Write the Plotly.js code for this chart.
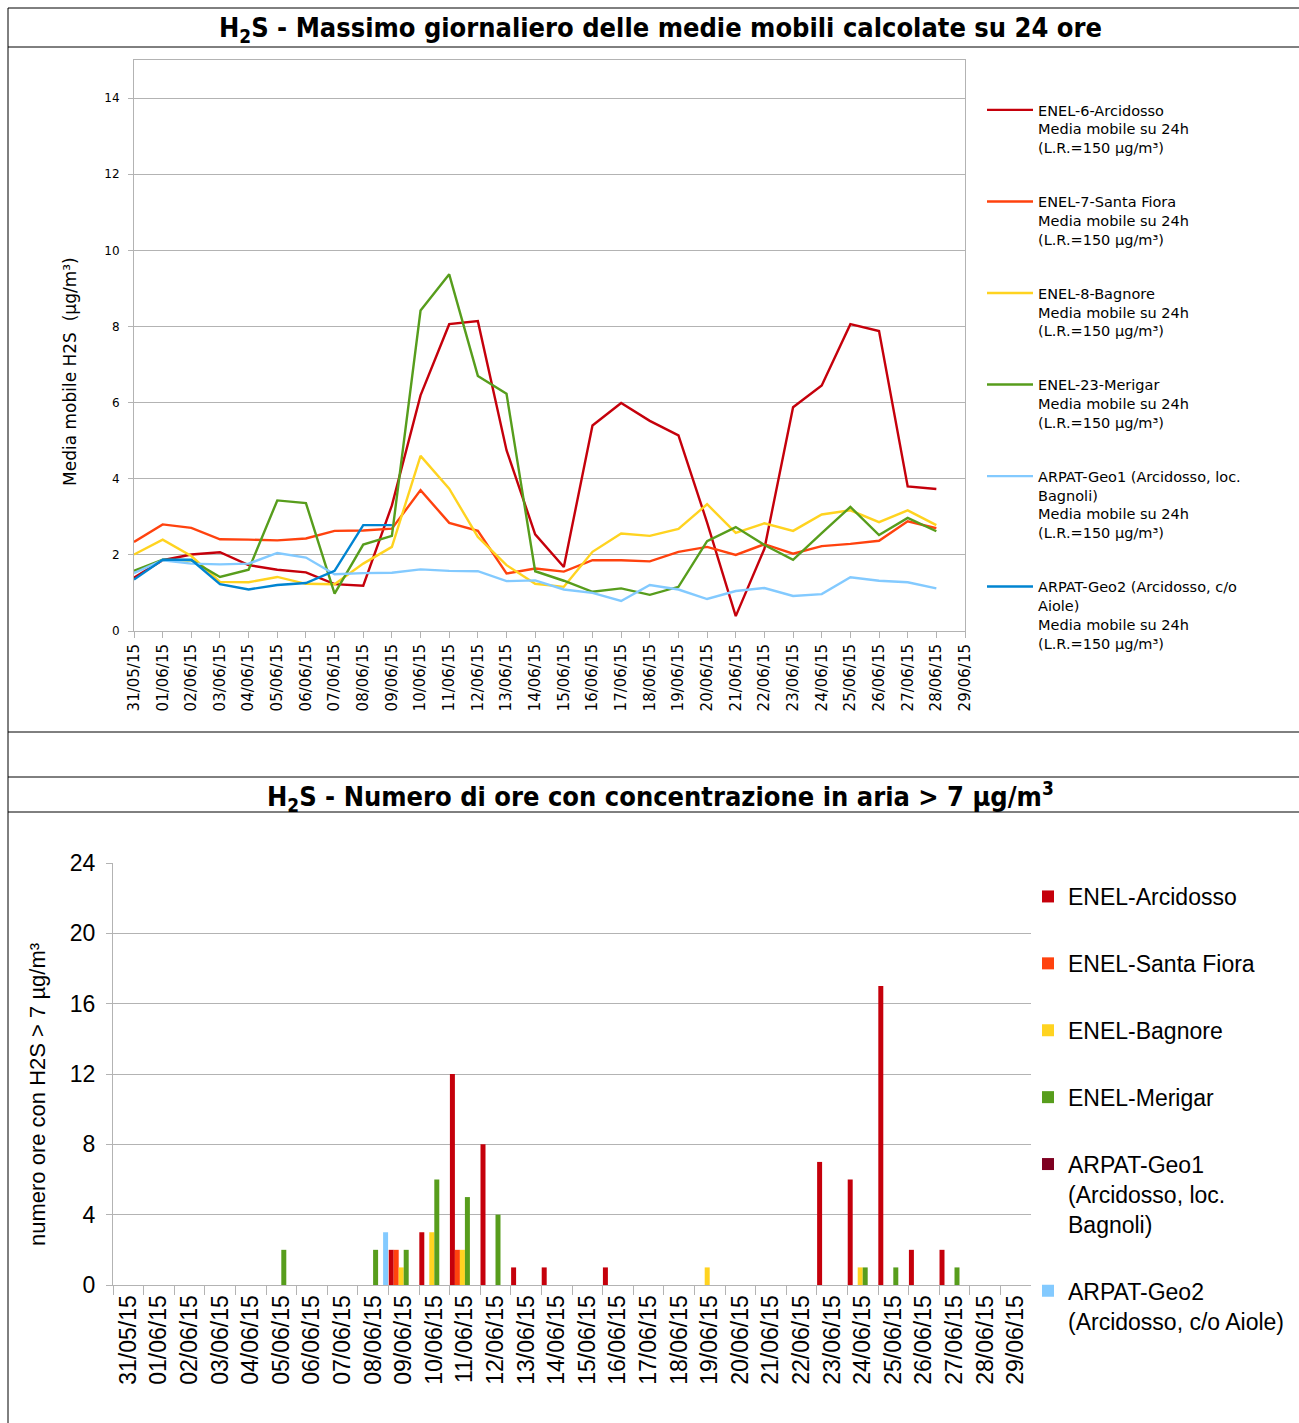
<!DOCTYPE html>
<html>
<head>
<meta charset="utf-8">
<script src="https://cdn.plot.ly/plotly-3.0.1.min.js"></script>
<style>html,body{margin:0;padding:0;background:#fff;}#chart{width:1299px;height:1423px;}</style>
</head>
<body>
<div id="chart"></div>
<script>
// ---- categories ----
const dates = ["31/05/15","01/06/15","02/06/15","03/06/15","04/06/15","05/06/15","06/06/15","07/06/15","08/06/15","09/06/15",
  "10/06/15","11/06/15","12/06/15","13/06/15","14/06/15","15/06/15","16/06/15","17/06/15","18/06/15","19/06/15",
  "20/06/15","21/06/15","22/06/15","23/06/15","24/06/15","25/06/15","26/06/15","27/06/15","28/06/15","29/06/15"];

// ---- top chart: daily max of 24h moving average (µg/m³) ----
const enel6Arcidosso = [1.40,1.86,2.01,2.07,1.73,1.61,1.54,1.23,1.19,3.30,6.19,8.06,8.14,4.75,2.54,1.68,5.40,5.99,5.52,5.14,2.85,0.39,2.16,5.88,6.45,8.06,7.88,3.80,3.73];
const enel7SantaFiora = [2.34,2.80,2.71,2.41,2.40,2.38,2.43,2.63,2.64,2.69,3.70,2.84,2.63,1.51,1.64,1.56,1.86,1.86,1.83,2.08,2.21,2.00,2.28,2.03,2.23,2.29,2.37,2.88,2.70];
const enel8Bagnore = [2.01,2.40,1.97,1.29,1.28,1.42,1.24,1.23,1.77,2.21,4.60,3.74,2.47,1.73,1.24,1.16,2.08,2.56,2.50,2.68,3.33,2.58,2.83,2.63,3.06,3.17,2.86,3.17,2.78];
const enel23Merigar = [1.58,1.87,1.86,1.42,1.61,3.43,3.36,0.98,2.27,2.50,8.42,9.37,6.70,6.23,1.57,1.32,1.03,1.12,0.95,1.16,2.36,2.73,2.26,1.87,2.57,3.26,2.52,2.97,2.62];
const arpatGeo1 = [1.52,1.86,1.77,1.75,1.77,2.05,1.93,1.49,1.52,1.53,1.62,1.58,1.57,1.31,1.33,1.09,1.00,0.79,1.21,1.09,0.84,1.05,1.13,0.92,0.97,1.41,1.32,1.28,1.12];
const arpatGeo2 = [1.35,1.87,1.87,1.23,1.09,1.21,1.26,1.58,2.78,2.78];

const lineNames = [
  "ENEL-6-Arcidosso<br>Media mobile su 24h<br>(L.R.=150 µg/m³)",
  "ENEL-7-Santa Fiora<br>Media mobile su 24h<br>(L.R.=150 µg/m³)",
  "ENEL-8-Bagnore<br>Media mobile su 24h<br>(L.R.=150 µg/m³)",
  "ENEL-23-Merigar<br>Media mobile su 24h<br>(L.R.=150 µg/m³)",
  "ARPAT-Geo1 (Arcidosso, loc.<br>Bagnoli)<br>Media mobile su 24h<br>(L.R.=150 µg/m³)",
  "ARPAT-Geo2 (Arcidosso, c/o<br>Aiole)<br>Media mobile su 24h<br>(L.R.=150 µg/m³)"
];
const lineColors = ["#c5000b","#ff420e","#ffd320","#579d1c","#83caff","#0084d1"];
const lineSeries = [enel6Arcidosso, enel7SantaFiora, enel8Bagnore, enel23Merigar, arpatGeo1, arpatGeo2];
const yTitleTop = "Media mobile H2S  (µg/m³)";

// ---- bottom chart: hours with concentration > 7 µg/m³ ----
const hArcidosso  = [0,0,0,0,0,0,0,0,0,2,3,12,8,1,1,0,1,0,0,0,0,0,0,7,6,17,2,2,0,0];
const hSantaFiora = [0,0,0,0,0,0,0,0,0,2,0,2,0,0,0,0,0,0,0,0,0,0,0,0,0,0,0,0,0,0];
const hBagnore    = [0,0,0,0,0,0,0,0,0,1,3,2,0,0,0,0,0,0,0,1,0,0,0,0,1,0,0,0,0,0];
const hMerigar    = [0,0,0,0,0,2,0,0,2,2,6,5,4,0,0,0,0,0,0,0,0,0,0,0,1,1,0,1,0,0];
const hGeo1       = [0,0,0,0,0,0,0,0,0,0,0,0,0,0,0,0,0,0,0,0,0,0,0,0,0,0,0,0,0,0];
const hGeo2       = [0,0,0,0,0,0,0,0,3,0,0,0,0,0,0,0,0,0,0,0,0,0,0,0,0,0,0,0,0,0];
const barNames = ["ENEL-Arcidosso","ENEL-Santa Fiora","ENEL-Bagnore","ENEL-Merigar",
  "ARPAT-Geo1<br>(Arcidosso, loc.<br>Bagnoli)","ARPAT-Geo2<br>(Arcidosso, c/o Aiole)"];
const barColors = ["#c5000b","#ff420e","#ffd320","#579d1c","#7e0021","#83caff"];
const barSeries = [hArcidosso,hSantaFiora,hBagnore,hMerigar,hGeo1,hGeo2];
const yTitleBottom = "numero ore con H2S > 7 µg/m³";

// ---- build ----
const W = 1299, H = 1423;
const px = v => v / W, py = v => 1 - v / H;
const traces = [];
lineSeries.forEach((s, i) => {
  traces.push({type:"scatter", mode:"lines", x: dates.slice(0, s.length), y: s, name: lineNames[i],
    line:{color: lineColors[i], width: 2.4}, xaxis:"x", yaxis:"y", legend:"legend", legendgroup:"l"+i});
});
barSeries.forEach((s, i) => {
  traces.push({type:"bar", x: dates, y: s, name: barNames[i], marker:{color: barColors[i]},
    xaxis:"x2", yaxis:"y2", legend:"legend2", legendgroup:"b"+i});
});

const grid = "#b3b3b3";
const sans = "DejaVu Sans";
const lib = "Liberation Sans, Arial, sans-serif";
const narrow = "Liberation Sans Narrow, DejaVu Sans Condensed, Liberation Sans";
function hline(y, x0, x1, w){ return {type:"line", xref:"paper", yref:"paper", x0:px(x0), x1:px(x1), y0:py(y), y1:py(y), line:{color:"#000", width:w||1}}; }

const layout = {
  width: W, height: H, autosize:false,
  margin:{l:0,r:0,t:0,b:0,pad:0},
  paper_bgcolor:"#fff", plot_bgcolor:"#fff",
  font:{family:sans, color:"#000"},
  showlegend:true,
  barmode:"group", bargap:0.02, bargroupgap:0,
  xaxis:{domain:[px(134), px(965)], anchor:"y", type:"category", categoryorder:"array", categoryarray:dates,
    range:[0,29], showline:true, mirror:true, linecolor:grid, linewidth:1, ticks:"outside", ticklen:6, tickcolor:grid,
    tickangle:-90, tickfont:{family:sans, size:15, color:"#000"}, showgrid:false, zeroline:false, fixedrange:true},
  yaxis:{domain:[py(631), py(60)], anchor:"x", range:[0,15], tick0:0, dtick:2, showgrid:true, gridcolor:grid, gridwidth:1,
    showline:true, mirror:true, linecolor:grid, ticks:"outside", ticklen:5, tickcolor:grid, zeroline:false,
    tickfont:{family:sans, size:12, color:"#000"}, ticklabelstandoff:6},
  xaxis2:{domain:[px(113), px(1031)], anchor:"y2", type:"category", categoryorder:"array", categoryarray:dates,
    range:[-0.5,29.5], tickson:"boundaries", showline:true, linecolor:grid, ticks:"outside", ticklen:9, tickcolor:grid,
    tickangle:-90, tickfont:{family:lib, size:23, color:"#000"}, showgrid:false, zeroline:false},
  yaxis2:{domain:[py(1285), py(863)], anchor:"x2", range:[0,24], tick0:0, dtick:4, showgrid:true, gridcolor:grid,
    showline:true, linecolor:grid, ticks:"outside", ticklen:6, tickcolor:grid, zeroline:false,
    tickfont:{family:lib, size:23, color:"#000"}, ticklabelstandoff:6},
  legend:{x:px(982), y:py(94), xanchor:"left", yanchor:"top", bgcolor:"rgba(0,0,0,0)", borderwidth:0, itemwidth:46,
    font:{family:sans, size:14.5, color:"#000"}, traceorder:"grouped", tracegroupgap:32, valign:"top", itemclick:false},
  legend2:{x:px(1028), y:py(875), xanchor:"left", yanchor:"top", bgcolor:"rgba(0,0,0,0)", borderwidth:0,
    font:{family:lib, size:23, color:"#000"}, traceorder:"grouped", tracegroupgap:34, valign:"top", itemclick:false},
  annotations:[
    {xref:"paper", yref:"paper", x:px(660), y:py(29), xanchor:"center", yanchor:"middle", showarrow:false,
      text:"<b>H<sub>2</sub>S - Massimo giornaliero delle medie mobili calcolate su 24 ore</b>",
      font:{family:narrow, size:27, color:"#000"}},
    {xref:"paper", yref:"paper", x:px(660), y:py(796), xanchor:"center", yanchor:"middle", showarrow:false,
      text:"<b>H<sub>2</sub>S - Numero di ore con concentrazione in aria > 7 µg/m<sup>3</sup></b>",
      font:{family:narrow, size:27, color:"#000"}},
    {xref:"paper", yref:"paper", x:px(70), y:py(372), xanchor:"center", yanchor:"middle", showarrow:false,
      textangle:-90, text:yTitleTop, font:{family:sans, size:17, color:"#000"}},
    {xref:"paper", yref:"paper", x:px(37), y:py(1095), xanchor:"center", yanchor:"middle", showarrow:false,
      textangle:-90, text:yTitleBottom, font:{family:lib, size:22, color:"#000"}}
  ],
  shapes:[
    hline(8, 8, 1299), hline(47, 8, 1299), hline(732, 8, 1299), hline(777, 8, 1299), hline(812, 8, 1299),
    {type:"line", xref:"paper", yref:"paper", x0:px(8), x1:px(8), y0:py(8), y1:0, line:{color:"#000", width:1}}
  ]
};

Plotly.newPlot("chart", traces, layout, {displayModeBar:false, staticPlot:true});
</script>
</body>
</html>
